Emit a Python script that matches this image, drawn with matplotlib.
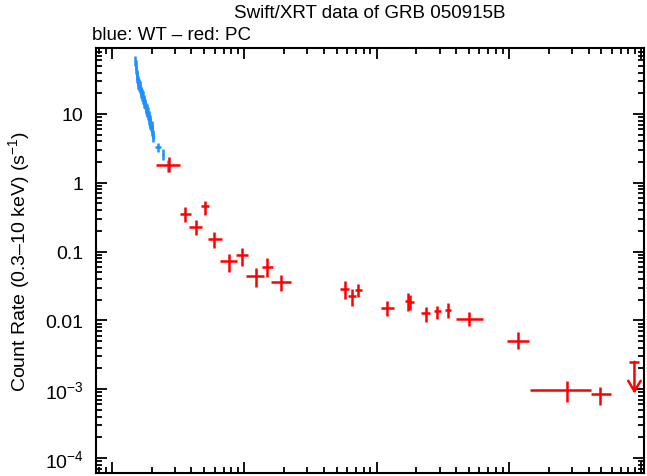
import matplotlib
matplotlib.use("Agg")
import matplotlib.pyplot as plt
import numpy as np
from matplotlib.ticker import LogLocator, NullFormatter

plt.rcParams['font.family'] = ['Liberation Sans', 'DejaVu Sans']
plt.rcParams['mathtext.fontset'] = 'custom'
plt.rcParams['mathtext.rm'] = 'Liberation Sans'
plt.rcParams['mathtext.it'] = 'Liberation Sans:italic'

# WT mode (blue): time since trigger (s), half bin width, count rate (s^-1), rate error
wt_t = [151, 152, 153, 154, 155, 156, 157, 158, 159, 160, 161, 162, 163, 164,
        165, 166, 167, 168, 170, 171, 172, 174, 175, 176, 178, 179, 180, 182,
        183, 184, 186, 187, 188, 190, 191, 192, 194, 195, 196, 198, 200, 201,
        202, 204, 206, 224, 244, 267]
wt_dt = [1.0, 1.0, 1.0, 1.0, 1.0, 1.0, 1.2, 1.2, 1.2, 1.2, 1.2, 1.2, 1.2, 1.2,
         1.2, 1.2, 1.2, 1.2, 1.4, 1.4, 1.4, 1.4, 1.4, 1.4, 1.4, 1.4, 1.4, 1.4,
         1.4, 1.4, 1.5, 1.5, 1.5, 1.5, 1.5, 1.5, 1.5, 1.5, 1.5, 1.5, 1.6, 1.6,
         1.6, 2.0, 2.0, 11, 5, 3]
wt_rate = [60, 52, 44, 38, 33, 36, 30, 31, 27, 28.5, 25, 26.5, 23, 24.5,
           21.5, 22, 19.5, 20.5, 18, 19, 16, 15.5, 16.5, 14, 13.5, 14.5, 12.5, 11.5,
           12.2, 10.8, 10.5, 11.2, 9.4, 8.8, 9.6, 8.2, 7.6, 8.4, 7.0, 6.6, 6.2, 6.8,
           5.6, 5.1, 4.6, 3.3, 2.6, 1.8]
wt_err = [10, 8, 6.5, 5.5, 4.8, 5, 4.2, 4.2, 3.6, 3.8, 3.3, 3.5, 3.0, 3.2,
          2.8, 2.9, 2.6, 2.7, 2.4, 2.5, 2.2, 2.1, 2.2, 1.9, 1.8, 1.9, 1.7, 1.6,
          1.7, 1.5, 1.5, 1.5, 1.3, 1.2, 1.3, 1.2, 1.1, 1.2, 1.0, 1.0, 0.9, 1.0,
          0.85, 0.8, 0.75, 0.5, 0.45, 0.35]

# PC mode (red): time, time bin edges, rate, rate range
pc_t = [269, 359, 432, 505, 594, 762, 961, 1225, 1500, 1915, 5750, 6500, 7290,
        12000, 17200, 17900, 23500, 28600, 34500, 50100, 117500, 273000, 492000]
pc_tlo = [216, 327, 385, 471, 529, 659, 866, 1041, 1374, 1607, 5310, 6100, 6890,
          10900, 16400, 17400, 21700, 27200, 32700, 39600, 96100, 145000, 414000]
pc_thi = [330, 396, 484, 544, 679, 890, 1077, 1416, 1655, 2249, 6190, 6970, 7820,
          13600, 17900, 19200, 25200, 30500, 36500, 64000, 141600, 418000, 596000]
pc_rate = [1.83, 0.352, 0.225, 0.455, 0.152, 0.073, 0.0893, 0.0442, 0.0604,
           0.0358, 0.0286, 0.0226, 0.0277, 0.0151, 0.019, 0.0183, 0.0128,
           0.01355, 0.014, 0.0104, 0.00507, 0.00097, 0.00085]
pc_rlo = [1.42, 0.267, 0.174, 0.344, 0.113, 0.050, 0.0624, 0.0303, 0.0423,
          0.0270, 0.0205, 0.016, 0.0217, 0.0115, 0.01355, 0.0143, 0.0096,
          0.0105, 0.0107, 0.0082, 0.00384, 0.000646, 0.00059]
pc_rhi = [2.35, 0.44, 0.288, 0.55, 0.191, 0.092, 0.112, 0.0572, 0.080,
          0.0461, 0.037, 0.0286, 0.0338, 0.019, 0.025, 0.0234, 0.0155,
          0.0164, 0.0179, 0.0131, 0.0067, 0.00132, 0.00109]

# upper limit
ul_t = 889000
ul_rate = 0.0025

blue = '#1e90ff'
red = '#ff0000'

fig = plt.figure(figsize=(6.47, 4.77), dpi=100)
ax = fig.add_axes([0.1484, 0.0063, 0.847, 0.891])
ax.set_xscale('log')
ax.set_yscale('log')

ax.errorbar(wt_t, wt_rate, xerr=wt_dt, yerr=wt_err,
            fmt='none', ecolor=blue, elinewidth=1.8, capsize=0, zorder=2)

pc_t = np.array(pc_t)
pc_rate = np.array(pc_rate)
ax.errorbar(pc_t, pc_rate,
            xerr=[pc_t - np.array(pc_tlo), np.array(pc_thi) - pc_t],
            yerr=[pc_rate - np.array(pc_rlo), np.array(pc_rhi) - pc_rate],
            fmt='none', ecolor=red, elinewidth=1.8, capsize=0, zorder=3)

# upper limit arrow
ax.annotate('', xy=(ul_t, ul_rate / 2.9), xytext=(ul_t, ul_rate),
            arrowprops=dict(arrowstyle='->,head_length=0.75,head_width=0.45',
                            color=red, lw=1.8, shrinkA=0, shrinkB=0))
ax.plot([ul_t], [ul_rate], marker='_', markersize=7, mew=1.8, color=red)

ax.set_xlim(76, 1.05e6)
ax.set_ylim(6.05e-5, 91)

ax.set_yticks([10, 1, 0.1, 0.01, 1e-3, 1e-4],
              labels=['10', '1', '0.1', '0.01', r'10$^{-3}$', r'10$^{-4}$'])
ax.yaxis.set_minor_locator(LogLocator(base=10, subs=np.arange(2, 10), numticks=20))
ax.yaxis.set_minor_formatter(NullFormatter())
ax.xaxis.set_major_locator(LogLocator(base=10, numticks=20))
ax.xaxis.set_minor_locator(LogLocator(base=10, subs=np.arange(2, 10), numticks=20))
ax.xaxis.set_minor_formatter(NullFormatter())

ax.tick_params(which='both', direction='in', top=True, right=True,
               labelbottom=False, width=1.3, labelsize=14)
ax.tick_params(which='major', length=8, pad=9)
ax.tick_params(which='minor', length=4)
for s in ax.spines.values():
    s.set_linewidth(1.5)

ax.set_ylabel('Count Rate (0.3\u201310 keV) (s$^{-1}$)', fontsize=14, labelpad=9)
fig.text(0.572, 0.972, 'Swift/XRT data of GRB 050915B', ha='center', va='center',
         fontsize=13.5)
fig.text(0.142, 0.925, 'blue: WT \u2013 red: PC', ha='left', va='center', fontsize=13.5)

fig.savefig('out.png', dpi=100)
